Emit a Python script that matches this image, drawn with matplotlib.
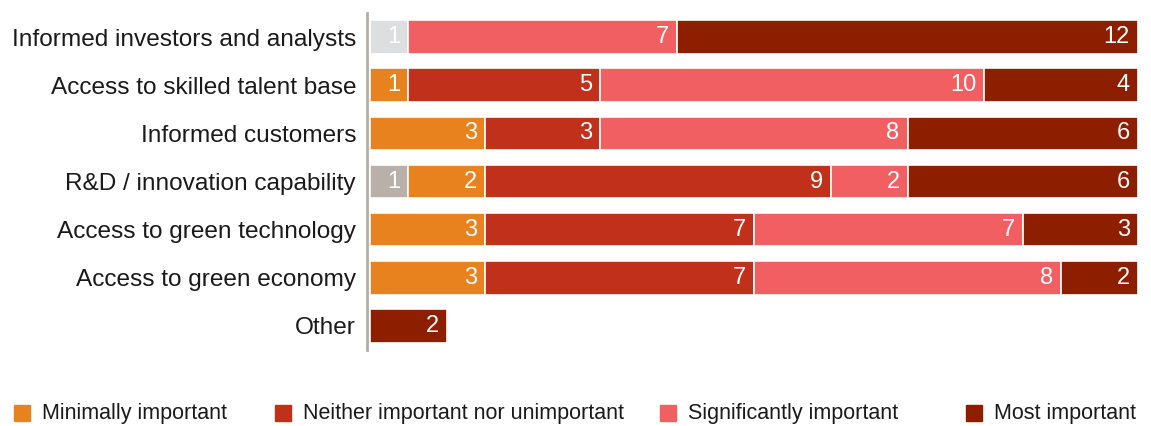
import matplotlib
matplotlib.use("Agg")
import matplotlib.pyplot as plt
from matplotlib.patches import Rectangle
import numpy as np

categories = ["Informed investors and analysts", "Access to skilled talent base",
              "Informed customers", "R&D / innovation capability",
              "Access to green technology", "Access to green economy", "Other"]
not_important = [1, 0, 0, 0, 0, 0, 0]
unspecified = [0, 0, 0, 1, 0, 0, 0]
minimally = [0, 1, 3, 2, 3, 3, 0]
neither = [0, 5, 3, 9, 7, 7, 0]
significantly = [7, 10, 8, 2, 7, 8, 0]
most = [12, 4, 6, 6, 3, 2, 2]

series = [
    (None, not_important, "#DDDEE0"),
    (None, unspecified, "#B9B1A9"),
    ("Minimally important", minimally, "#E8821E"),
    ("Neither important nor unimportant", neither, "#C0301A"),
    ("Significantly important", significantly, "#F25F62"),
    ("Most important", most, "#8D1E00"),
]

plt.rcParams['font.family'] = ['Liberation Sans', 'DejaVu Sans']

W, H = 1151, 426
fig = plt.figure(figsize=(W / 100, H / 100), dpi=100)
ax = fig.add_axes([370 / W, 1 - 350 / H, (1138 - 370) / W, (350 - 13) / H])

y = np.arange(len(categories))
left = np.zeros(len(categories))
for name, vals, col in series:
    vals = np.array(vals, dtype=float)
    ax.barh(y, vals, left=left, height=0.70, color=col, edgecolor="white", linewidth=1.2)
    for yi, (l, v) in enumerate(zip(left, vals)):
        if v > 0:
            ax.text(l + v - 0.21, yi, f"{int(v)}", ha="right", va="center",
                    color="white", fontsize=17)
    left += vals

ax.set_xlim(0, 20)
ax.set_ylim(len(categories) - 0.5, -0.5)
ax.set_yticks(y)
ax.set_yticklabels(categories)
ax.tick_params(axis="y", length=0, pad=8, labelsize=17.6, labelcolor="#1a1a1a")
ax.set_xticks([])
for s in ["top", "right", "bottom"]:
    ax.spines[s].set_visible(False)
ax.spines["left"].set_color("#B5ADA5")
ax.spines["left"].set_linewidth(2)
ax.spines["left"].set_position(("outward", 2))

# legend
leg_x = [14, 275, 660, 966]
leg_items = [(n, c) for n, v, c in series if n is not None]
for (name, col), lx in zip(leg_items, leg_x):
    fig.patches.append(Rectangle((lx / W, 1 - 421 / H), 16 / W, 16 / H,
                                 transform=fig.transFigure, color=col))
    fig.text((lx + 28) / W, 1 - 413 / H, name, fontsize=15.5, va="center",
             ha="left", color="#1a1a1a")

fig.savefig("out.png", dpi=100)
